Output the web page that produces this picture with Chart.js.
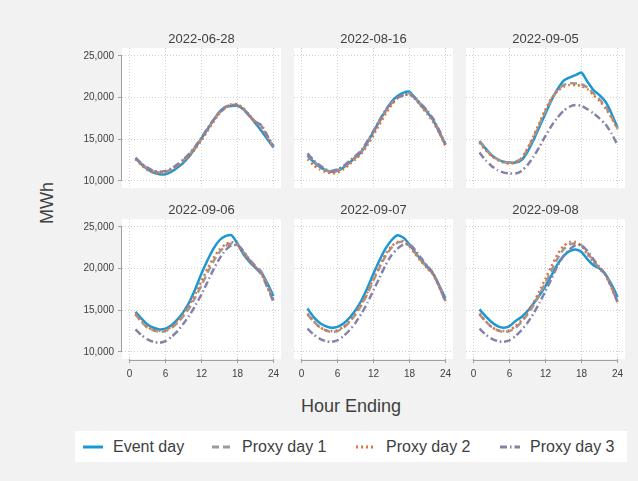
<!DOCTYPE html>
<html>
<head>
<meta charset="utf-8">
<script src="https://cdn.jsdelivr.net/npm/chart.js@4.4.1/dist/chart.umd.min.js"></script>
<style>
  body { margin: 0; width: 638px; height: 481px; overflow: hidden; position: relative;
         background: #f2f2f2; font-family: "Liberation Sans", Arial, sans-serif; color: #404040; }
  canvas { position: absolute; }
  .ttl { position: absolute; width: 159px; text-align: center; font-size: 13px; line-height: 15px; }
  #ytitle { position: absolute; left: 47px; top: 203px; font-size: 18px; transform: translate(-50%, -50%) rotate(-90deg); }
  #xtitle { position: absolute; left: 351px; top: 406px; font-size: 18px; transform: translate(-50%, -50%); white-space: nowrap; }
  #legend { position: absolute; left: 75px; top: 431px; width: 552px; height: 31px; background: #fff; }
  .item { position: absolute; top: 0; height: 31px; font-size: 16px; line-height: 31px; white-space: nowrap; }
  .item svg { position: absolute; top: 13px; }
</style>
</head>
<body>
<div id="ytitle">MWh</div>
<div id="xtitle">Hour Ending</div>
<div id="legend"></div>

<script>
// Data
const hours = [1, 2, 3, 4, 5, 6, 7, 8, 9, 10, 11, 12, 13, 14, 15, 16, 17, 18, 19, 20, 21, 22, 23, 24];
const panelDates = ['2022-06-28', '2022-08-16', '2022-09-05', '2022-09-06', '2022-09-07', '2022-09-08'];
const xTicks = [0, 6, 12, 18, 24];
const yTicks = [10000, 15000, 20000, 25000];

// one row per panel
const eventDay = [
  [12700, 12000, 11400, 11000, 10800, 10800, 11100, 11600, 12200, 13000, 14000, 15100, 16200, 17300, 18300, 18900, 19000, 19000, 18600, 17800, 16900, 16000, 15000, 14000],
  [13000, 12300, 11700, 11300, 11100, 11200, 11600, 12200, 12800, 13500, 14600, 15900, 17200, 18400, 19500, 20200, 20600, 20700, 19900, 19000, 18200, 17200, 15800, 14300],
  [14800, 13900, 13100, 12600, 12300, 12200, 12200, 12500, 13500, 14900, 16500, 18100, 19700, 21000, 22000, 22400, 22700, 23000, 21900, 20900, 20300, 19500, 18100, 16400],
  [14800, 14000, 13300, 12900, 12700, 12800, 13200, 13900, 14800, 16000, 17600, 19400, 21000, 22400, 23400, 23900, 24000, 23000, 21700, 20800, 20100, 19500, 18200, 16700],
  [15200, 14200, 13500, 13100, 12900, 13000, 13400, 14100, 15000, 16200, 17700, 19400, 21000, 22400, 23400, 24000, 23700, 22900, 21900, 21000, 20200, 19300, 17900, 16400],
  [15100, 14300, 13600, 13100, 12900, 13100, 13700, 14200, 14900, 15800, 16800, 17900, 19200, 20500, 21500, 22100, 22300, 22000, 21100, 20400, 20000, 19300, 18100, 16600]
];
const proxyDay1 = [
  [12700, 12100, 11500, 11200, 11000, 11100, 11400, 11900, 12500, 13200, 14100, 15100, 16200, 17300, 18300, 18900, 19100, 19100, 18600, 17800, 17100, 16600, 15300, 14100],
  [13200, 12400, 11800, 11300, 11100, 11300, 11700, 12300, 12900, 13600, 14700, 15900, 17100, 18300, 19300, 20000, 20300, 20500, 19900, 19100, 18300, 17300, 15900, 14300],
  [14700, 13800, 13100, 12600, 12300, 12200, 12300, 12700, 13800, 15200, 16800, 18400, 19800, 20900, 21500, 21700, 21700, 21600, 21200, 20500, 19800, 18900, 17700, 16300],
  [14500, 13600, 12900, 12600, 12400, 12500, 12900, 13500, 14300, 15300, 16600, 18000, 19500, 20900, 22000, 22700, 23000, 22900, 22000, 21100, 20300, 19600, 18000, 16200],
  [14500, 13700, 13000, 12600, 12400, 12500, 12900, 13600, 14500, 15600, 17000, 18600, 20100, 21500, 22500, 23100, 23200, 22700, 21800, 20900, 20100, 19300, 17800, 16100],
  [14500, 13700, 13000, 12600, 12400, 12500, 12900, 13600, 14500, 15600, 16900, 18300, 19800, 21200, 22300, 22900, 23000, 22800, 21900, 20900, 20100, 19300, 17800, 16000]
];
const proxyDay2 = [
  [12600, 11900, 11300, 11000, 10900, 11000, 11300, 11800, 12300, 13000, 13900, 14900, 16000, 17100, 18100, 18800, 19200, 19200, 18700, 17900, 17000, 16300, 15200, 14100],
  [12600, 11900, 11400, 11100, 10900, 11000, 11400, 12000, 12600, 13300, 14300, 15500, 16800, 18000, 19100, 19900, 20300, 20400, 19800, 18900, 18000, 17000, 15700, 14200],
  [14600, 13700, 13000, 12500, 12200, 12100, 12200, 12700, 13900, 15400, 17000, 18600, 19900, 20800, 21300, 21500, 21500, 21400, 21000, 20300, 19600, 18700, 17600, 16200],
  [14600, 13700, 13000, 12600, 12500, 12600, 13000, 13700, 14600, 15700, 17000, 18500, 20000, 21300, 22300, 22900, 23200, 22800, 21800, 20900, 20200, 19400, 17800, 16200],
  [14600, 13700, 13000, 12600, 12500, 12600, 13000, 13700, 14600, 15800, 17200, 18800, 20300, 21700, 22700, 23200, 23300, 22700, 21700, 20800, 20000, 19200, 17700, 16100],
  [14600, 13700, 13000, 12600, 12500, 12600, 13100, 13800, 14700, 15900, 17300, 18800, 20300, 21700, 22700, 23200, 23200, 22700, 21700, 20800, 20000, 19200, 17700, 16000]
];
const proxyDay3 = [
  [12800, 12100, 11600, 11200, 11100, 11200, 11500, 12000, 12600, 13300, 14200, 15200, 16300, 17300, 18200, 18800, 19100, 19000, 18600, 17800, 17100, 16700, 15400, 14200],
  [13300, 12500, 11900, 11400, 11200, 11400, 11800, 12400, 13000, 13700, 14800, 16000, 17300, 18500, 19400, 20000, 20300, 20400, 19900, 19200, 18400, 17400, 16000, 14400],
  [13400, 12500, 11800, 11300, 11000, 10900, 10900, 11200, 11900, 12900, 14100, 15400, 16600, 17600, 18400, 18900, 19100, 19000, 18600, 18100, 17500, 16800, 15700, 14300],
  [12700, 12000, 11500, 11200, 11100, 11300, 11800, 12500, 13400, 14400, 15600, 16900, 18400, 19900, 21200, 22200, 22800, 22800, 22100, 21000, 20100, 19300, 17700, 16000],
  [12800, 12100, 11600, 11300, 11200, 11400, 11900, 12600, 13500, 14600, 15900, 17400, 18900, 20400, 21600, 22400, 22900, 22900, 22200, 21200, 20300, 19400, 17800, 16000],
  [12800, 12100, 11600, 11300, 11200, 11400, 11900, 12600, 13500, 14600, 15900, 17300, 18800, 20300, 21500, 22300, 22800, 22800, 22100, 21100, 20200, 19300, 17800, 16000]
];

// series look
const series = [
  { label: 'Event day',   data: eventDay,  color: '#1a98d5', dash: [] },
  { label: 'Proxy day 1', data: proxyDay1, color: '#9b9b9b', dash: [7, 4] },
  { label: 'Proxy day 2', data: proxyDay2, color: '#e2733a', dash: [2, 3] },
  { label: 'Proxy day 3', data: proxyDay3, color: '#8681a6', dash: [7, 3, 1.5, 3] }
];

// panel geometry (plot area)
const colLeft = [122, 294, 466];
const rowTop = [48, 219];
const plotW = 159, plotH = 140;
const padL = 60, padB = 30, padT = 10, padR = 10;
const axisColor = '#a0a0a0';

Chart.defaults.font.family = 'Liberation Sans, Arial, sans-serif';
Chart.defaults.color = '#404040';

// white plot region + axis lines that stop at the end ticks
const panelBg = {
  id: 'panelBg',
  beforeDraw(chart, args, opts) {
    const a = chart.chartArea, c = chart.ctx;
    c.save();
    c.fillStyle = '#ffffff';
    c.fillRect(a.left, a.top, a.right - a.left, a.bottom - a.top);
    c.restore();
  },
  afterDraw(chart, args, opts) {
    const a = chart.chartArea, c = chart.ctx;
    const x = chart.scales.x, y = chart.scales.y;
    c.save();
    c.strokeStyle = axisColor;
    c.lineWidth = 1;
    c.beginPath();
    if (opts.leftAxis) {
      c.moveTo(a.left - 0.5, y.getPixelForValue(yTicks[0]));
      c.lineTo(a.left - 0.5, y.getPixelForValue(yTicks[yTicks.length - 1]));
    }
    if (opts.bottomAxis) {
      c.moveTo(x.getPixelForValue(xTicks[0]), a.bottom + 1.5);
      c.lineTo(x.getPixelForValue(xTicks[xTicks.length - 1]), a.bottom + 1.5);
    }
    c.stroke();
    c.restore();
  }
};

function makePanel(p) {
  const col = p % 3, row = Math.floor(p / 3);
  const isLeft = col === 0, isBottom = row === 1;

  const cv = document.createElement('canvas');
  cv.width = padL + plotW + padR;
  cv.height = padT + plotH + padB;
  cv.style.left = (colLeft[col] - padL) + 'px';
  cv.style.top = (rowTop[row] - padT) + 'px';
  document.body.appendChild(cv);

  const title = document.createElement('div');
  title.className = 'ttl';
  title.textContent = panelDates[p];
  title.style.left = colLeft[col] + 'px';
  title.style.top = (rowTop[row] - 17) + 'px';
  document.body.appendChild(title);

  new Chart(cv, {
    type: 'line',
    data: {
      datasets: series.map((s, i) => ({
        label: s.label,
        data: hours.map((h, k) => ({ x: h, y: s.data[p][k] })),
        borderColor: s.color,
        borderDash: s.dash,
        borderWidth: 2.5,
        pointRadius: 0,
        tension: 0.2,
        fill: false,
        order: series.length - i
      }))
    },
    options: {
      responsive: false,
      animation: false,
      devicePixelRatio: 1,
      layout: { padding: { top: padT, right: padR, left: 0, bottom: 0 } },
      scales: {
        x: {
          type: 'linear',
          min: -1.25, max: 25.25,
          afterBuildTicks: s => { s.ticks = xTicks.map(v => ({ value: v })); },
          afterFit: s => { s.height = padB; },
          grid: { color: '#cfcfcf', drawTicks: isBottom, tickLength: 4, tickColor: axisColor, tickBorderDash: [] },
          border: { display: false, dash: [1, 2] },
          ticks: { display: isBottom, padding: 5, font: { size: 10 }, color: '#404040', maxRotation: 0 }
        },
        y: {
          min: 9150, max: 25950,
          afterBuildTicks: s => { s.ticks = yTicks.map(v => ({ value: v })); },
          afterFit: s => { s.width = padL; },
          grid: { color: '#cfcfcf', drawTicks: isLeft, tickLength: 4, tickColor: axisColor, tickBorderDash: [] },
          border: { display: false, dash: [1, 2] },
          ticks: {
            display: isLeft, padding: 4, font: { size: 10 }, color: '#404040',
            callback: v => v.toLocaleString('en-US')
          }
        }
      },
      plugins: {
        legend: { display: false },
        tooltip: { enabled: false },
        panelBg: { leftAxis: isLeft, bottomAxis: isBottom }
      }
    },
    plugins: [panelBg]
  });
}

for (let p = 0; p < panelDates.length; p++) makePanel(p);

// legend
const legend = document.getElementById('legend');
const sampleX = [8, 137, 281, 425];
series.forEach((s, i) => {
  const it = document.createElement('div');
  it.className = 'item';
  it.style.left = sampleX[i] + 'px';
  it.innerHTML =
    '<svg width="22" height="6"><line x1="0" y1="3" x2="20" y2="3" stroke="' + s.color +
    '" stroke-width="3" stroke-dasharray="' + (s.dash.length ? s.dash.join(' ') : 'none') + '"/></svg>' +
    '<span style="margin-left:30px">' + s.label + '</span>';
  legend.appendChild(it);
});
</script>
</body>
</html>
